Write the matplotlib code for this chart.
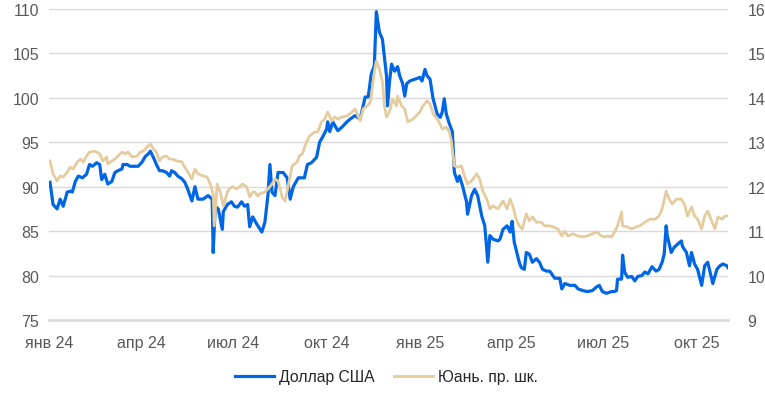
import numpy as np
import pandas as pd
import matplotlib
matplotlib.use("Agg")
import matplotlib.pyplot as plt

plt.rcParams['font.family'] = ['Liberation Sans', 'DejaVu Sans']

# Начало шкалы дат
start = pd.Timestamp('2024-01-01')

# Доллар США (дни от 01.01.2024, руб.)
usd_days = [1, 4, 8, 11, 14, 18, 21, 23, 26, 29, 33, 37, 40, 43, 47, 50, 52, 55, 58, 62,
            65, 68, 72, 73, 77, 80, 83, 88, 92, 95, 98, 100, 103, 106, 109, 112, 116, 119, 121, 124,
            127, 131, 134, 137, 141, 144, 147, 152, 157, 161, 162, 164, 167, 171, 172, 176, 180, 183, 186, 190,
            193, 196, 198, 201, 205, 210, 213, 216, 218, 220, 223, 226, 231, 235, 238, 241, 246, 250, 252, 255,
            259, 264, 267, 270, 274, 275, 277, 280, 285, 289, 294, 297, 302, 307, 312, 315, 318, 321, 323, 326,
            329, 333, 334, 336, 338, 341, 344, 346, 349, 351, 353, 356, 361, 366, 368, 371, 373, 376, 379, 383,
            386, 388, 390, 392, 395, 398, 400, 403, 405, 408, 412, 413, 417, 420, 423, 427, 430, 433, 435, 438,
            443, 445, 448, 452, 455, 457, 458, 459, 462, 464, 466, 469, 471, 474, 477, 481, 484, 487, 491, 494,
            496, 499, 504, 506, 509, 514, 519, 522, 527, 531, 536, 540, 543, 546, 550, 555, 558, 560, 561, 565,
            566, 568, 571, 575, 578, 581, 585, 588, 591, 595, 599, 602, 605, 607, 609, 610, 614, 617, 620, 624,
            625, 629, 632, 634, 637, 640, 644, 647, 650, 655, 659, 662, 665, 669, 670]
usd_vals = [90.5, 88.0, 87.5, 88.6, 87.8, 89.4, 89.5, 89.4, 90.6, 91.2, 91.0, 91.4, 92.5, 92.3, 92.7, 92.5, 90.8, 91.4, 90.3, 90.6,
            91.6, 91.8, 92.0, 92.5, 92.5, 92.3, 92.3, 92.3, 92.8, 93.4, 93.7, 94.0, 93.3, 92.5, 91.8, 91.8, 91.6, 91.2, 91.8, 91.6,
            91.2, 90.9, 90.5, 89.7, 88.4, 90.0, 88.6, 88.6, 89.0, 88.6, 82.6, 87.8, 87.5, 85.2, 87.2, 88.0, 88.3, 87.8, 87.7, 88.3,
            87.8, 88.0, 85.5, 86.6, 85.8, 84.9, 86.0, 89.0, 92.5, 89.4, 89.0, 91.6, 91.6, 91.0, 88.6, 90.0, 91.0, 91.0, 91.0, 92.5,
            92.7, 93.3, 95.0, 95.6, 96.5, 97.3, 96.2, 97.3, 96.3, 96.7, 97.3, 97.6, 98.0, 97.6, 100.1, 100.1, 102.7, 103.6, 109.7, 107.4,
            106.6, 102.5, 99.1, 101.8, 103.8, 103.0, 103.5, 102.5, 101.6, 100.2, 101.6, 101.9, 102.1, 102.3, 101.9, 103.2, 102.5, 102.1, 99.9, 98.2,
            97.8, 98.4, 99.9, 98.2, 97.1, 96.2, 91.6, 90.6, 91.2, 90.1, 88.3, 86.9, 89.0, 89.7, 89.0, 86.7, 85.6, 81.5, 84.5, 84.1,
            83.9, 84.1, 85.2, 85.6, 84.9, 86.1, 85.0, 83.8, 82.4, 81.5, 80.9, 80.7, 82.6, 82.4, 81.5, 81.9, 81.5, 80.7, 80.5, 80.5,
            80.2, 79.7, 79.7, 78.5, 79.1, 78.9, 78.9, 78.5, 78.3, 78.2, 78.3, 78.7, 78.9, 78.2, 78.0, 78.2, 78.2, 78.3, 79.6, 79.6,
            82.3, 80.4, 79.8, 79.9, 79.4, 79.9, 80.0, 80.4, 80.2, 81.0, 80.5, 80.7, 81.5, 82.4, 85.6, 84.5, 82.6, 83.2, 83.5, 83.9,
            83.3, 82.6, 81.1, 82.6, 81.3, 80.7, 78.9, 81.1, 81.5, 79.1, 80.7, 81.1, 81.3, 81.1, 80.9]

# Юань (правая шкала)
cny_days = [1, 4, 8, 11, 14, 18, 21, 24, 28, 31, 34, 37, 40, 45, 50, 53, 57, 58, 62, 65,
            68, 72, 75, 78, 82, 87, 90, 93, 97, 100, 103, 106, 109, 112, 116, 119, 122, 126, 131, 134,
            137, 141, 144, 147, 152, 156, 159, 162, 163, 166, 169, 172, 176, 178, 181, 185, 188, 191, 195, 198,
            201, 203, 206, 208, 213, 216, 220, 223, 226, 230, 233, 236, 240, 245, 247, 250, 254, 257, 262, 265,
            269, 272, 275, 279, 282, 285, 289, 294, 299, 302, 307, 310, 314, 317, 318, 321, 323, 326, 329, 331,
            333, 336, 339, 343, 344, 348, 351, 354, 359, 366, 369, 373, 376, 379, 383, 386, 388, 392, 395, 397,
            400, 403, 407, 410, 413, 417, 422, 425, 428, 432, 435, 438, 443, 445, 448, 452, 455, 458, 461, 464,
            467, 471, 474, 477, 481, 486, 489, 494, 497, 502, 506, 509, 512, 517, 522, 527, 531, 536, 541, 545,
            548, 551, 555, 558, 561, 565, 566, 570, 575, 580, 583, 588, 593, 598, 602, 605, 609, 612, 615, 619,
            624, 627, 630, 634, 637, 640, 644, 647, 650, 654, 657, 660, 664, 667, 670]
cny_vals = [12.58, 12.29, 12.13, 12.24, 12.22, 12.33, 12.44, 12.40, 12.56, 12.62, 12.56, 12.69, 12.78, 12.80, 12.74, 12.58, 12.67, 12.51, 12.58, 12.62,
            12.69, 12.78, 12.74, 12.78, 12.67, 12.69, 12.78, 12.80, 12.90, 12.96, 12.85, 12.78, 12.58, 12.67, 12.69, 12.62, 12.62, 12.58, 12.56, 12.44,
            12.33, 12.17, 12.40, 12.29, 12.24, 12.22, 12.06, 11.84, 11.12, 12.06, 11.88, 11.57, 11.88, 11.95, 12.00, 11.95, 12.00, 12.06, 12.00, 11.77,
            11.88, 11.88, 11.79, 11.84, 11.88, 11.95, 12.06, 12.17, 12.13, 11.77, 11.68, 12.02, 12.47, 12.56, 12.69, 12.74, 13.00, 13.14, 13.23, 13.23,
            13.46, 13.52, 13.68, 13.48, 13.57, 13.52, 13.57, 13.59, 13.68, 13.75, 13.48, 13.75, 13.82, 13.90, 14.04, 14.58, 14.83, 14.65, 14.36, 13.82,
            13.57, 13.68, 13.97, 13.82, 14.04, 13.82, 13.75, 13.46, 13.52, 13.68, 13.82, 13.93, 13.86, 13.64, 13.52, 13.41, 13.30, 13.34, 13.23, 13.03,
            12.47, 12.44, 12.47, 12.24, 12.06, 12.13, 12.29, 12.17, 11.90, 11.72, 11.50, 11.57, 11.50, 11.57, 11.68, 11.50, 11.72, 11.54, 11.27, 11.12,
            11.05, 11.39, 11.23, 11.32, 11.20, 11.20, 11.12, 11.12, 11.10, 11.05, 10.89, 11.00, 10.89, 10.94, 10.89, 10.87, 10.89, 10.94, 10.98, 10.89,
            10.87, 10.89, 10.87, 10.98, 11.12, 11.43, 11.12, 11.10, 11.05, 11.10, 11.12, 11.20, 11.27, 11.27, 11.34, 11.50, 11.90, 11.72, 11.61, 11.72,
            11.72, 11.61, 11.34, 11.54, 11.34, 11.27, 11.05, 11.34, 11.45, 11.23, 11.05, 11.32, 11.27, 11.34, 11.34]

tick_dates = ['2024-01-01', '2024-04-01', '2024-07-01', '2024-10-01',
              '2025-01-01', '2025-04-01', '2025-07-01', '2025-10-01']
tick_labels = ['янв 24', 'апр 24', 'июл 24', 'окт 24', 'янв 25', 'апр 25', 'июл 25', 'окт 25']

usd_dates = start + pd.to_timedelta(usd_days, unit='D')
cny_dates = start + pd.to_timedelta(cny_days, unit='D')

fig = plt.figure(figsize=(7.65, 4.06), dpi=100)
ax = fig.add_axes([49/765, 1 - 321/406, (728 - 49)/765, 311/406])
ax2 = ax.twinx()

l1, = ax.plot(usd_dates, usd_vals, color='#0066E6', lw=2.3, label='Доллар США')
l2, = ax2.plot(cny_dates, cny_vals, color='#E5CC9E', lw=2.0, label='Юань. пр. шк.')

ax.set_ylim(75, 110)
ax2.set_ylim(9, 16)
ax.set_yticks(range(75, 111, 5))
ax2.set_yticks(range(9, 17))
ax.set_xlim(start, start + pd.Timedelta(days=670))
ax.set_xticks(pd.to_datetime(tick_dates))
ax.set_xticklabels(tick_labels)

ax.grid(axis='y', color='#d9d9d9', lw=1)
ax.set_axisbelow(True)
for a in (ax, ax2):
    for s in a.spines.values():
        s.set_visible(False)
ax.spines['bottom'].set_visible(True)
ax.spines['bottom'].set_color('#d9d9d9')
ax.spines['bottom'].set_linewidth(1.8)

ax.tick_params(axis='y', length=0, labelsize=11.5, colors='#595959', pad=7)
ax.tick_params(axis='x', length=0, labelsize=11.5, colors='#595959', pad=11)
ax2.tick_params(axis='y', length=0, labelsize=11.5, colors='#595959', pad=14)

fig.legend(handles=[l1, l2], loc='center', bbox_to_anchor=(0.505, 0.069), ncol=2,
           frameon=False, fontsize=11.3, handlelength=2.5, handletextpad=0.3,
           columnspacing=1.2, labelcolor='#262626')

fig.savefig('out.png', dpi=100)
